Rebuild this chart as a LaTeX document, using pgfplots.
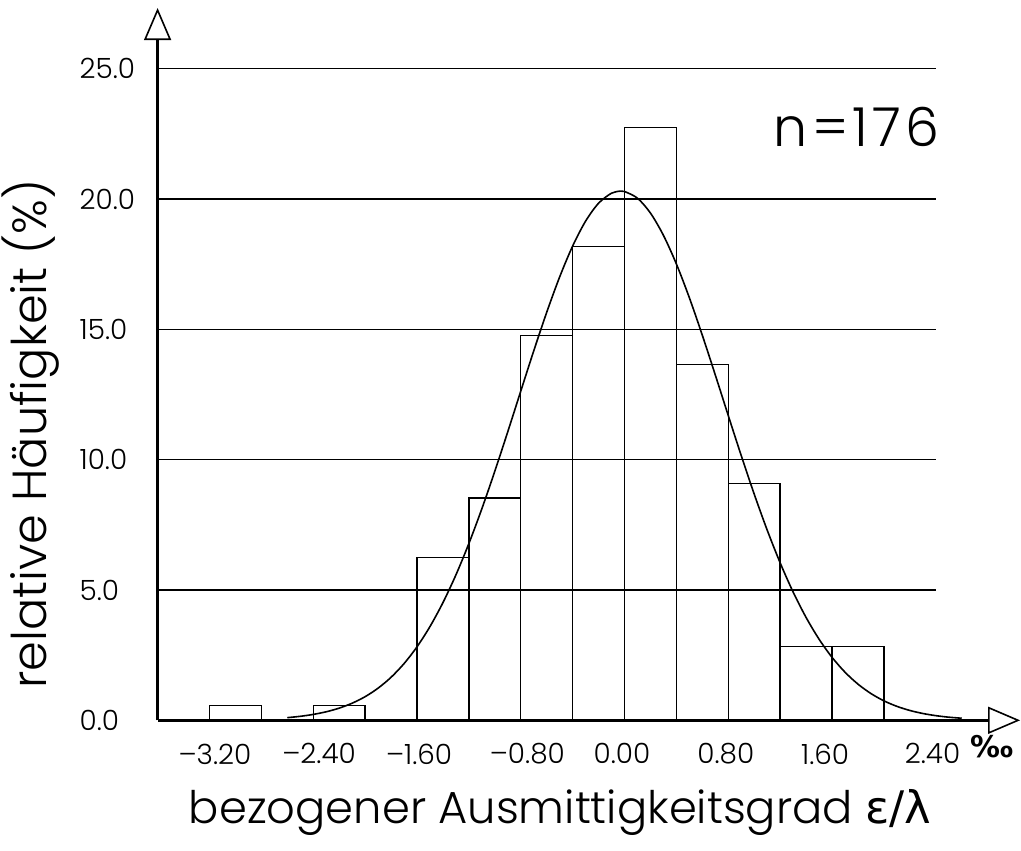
\documentclass[border=0pt]{standalone}
\usepackage{pgfplots}
\pgfplotsset{compat=1.18}
\usetikzlibrary{arrows.meta}
\usepackage{fontspec}
\setmainfont{Poppins}[UprightFont={* Light}]
\newfontfamily\greek{DejaVu Sans}
\newfontfamily\pmfont{DejaVu Sans}
\begin{document}
\begin{tikzpicture}
\begin{axis}[
  x=129.7bp, y=26.07bp,
  xmin=-3.8, xmax=2.85, ymin=0, ymax=27.32,
  axis lines=left,
  axis line style={line width=2.6bp, -{Triangle[open, length=32bp, width=27bp, line width=1.6bp]}},
  clip=false,
  xtick={-3.2,-2.4,-1.6,-0.8,0,0.8,1.6,2.4},
  xticklabels={\textendash3.20,\textendash2.40,\textendash1.60,\textendash0.80,0.00,0.80,1.60,2.40},
  ytick={0,5,10,15,20,25},
  yticklabels={0.0,5.0,10.0,15.0,20.0,25.0},
  tick style={draw=none},
  tick label style={font=\fontsize{28}{28}\selectfont, inner sep=0pt},
  xticklabel style={anchor=north west, xshift=-57bp, yshift=-21bp},
  yticklabel style={anchor=west, xshift=-76bp},
  xlabel={bezogener Ausmittigkeitsgrad {\greek ε/λ}},
  ylabel={relative Häufigkeit (\%)},
  xlabel style={font=\fontsize{45}{45}\selectfont, at={(axis cs:-0.697,-3.55)}, anchor=center},
  ylabel style={font=\fontsize{48}{48}\selectfont, at={(axis cs:-4.783,10.98)}, anchor=center},
]
\pgfplotsinvokeforeach{5,10,15,20,25}{
  \draw[line width=1.5bp] (axis cs:-3.8,#1) -- (axis cs:2.2,#1);
}
\addplot[ybar interval, draw=black, line width=1.4bp, fill=none] coordinates {
(-3.4,0.568) (-3.0,0) (-2.6,0.568) (-2.2,0) (-1.8,6.25) (-1.4,8.52) (-1.0,14.77)
(-0.6,18.18) (-0.2,22.73) (0.2,13.64) (0.6,9.09) (1.0,2.84) (1.4,2.84) (1.8,0)
};
\addplot[smooth, line width=1.6bp, no markers] coordinates {
(-2.8,0.102) (-2.7,0.153) (-2.6,0.226) (-2.5,0.327) (-2.4,0.467) (-2.3,0.656)
(-2.2,0.906) (-2.1,1.233) (-2.0,1.650) (-1.9,2.174) (-1.8,2.818) (-1.7,3.595)
(-1.6,4.513) (-1.5,5.576) (-1.4,6.780) (-1.3,8.113) (-1.2,9.553) (-1.1,11.070)
(-1.0,12.624) (-0.9,14.169) (-0.8,15.648) (-0.7,17.007) (-0.6,18.191) (-0.5,19.148)
(-0.4,19.835) (-0.3,20.220) (-0.23,20.30) (-0.2,20.285) (-0.1,20.027) (0.0,19.458)
(0.1,18.604) (0.2,17.505) (0.3,16.209) (0.4,14.770) (0.5,13.246) (0.6,11.690)
(0.7,10.153) (0.8,8.677) (0.9,7.298) (1.0,6.041) (1.1,4.921) (1.2,3.945)
(1.3,3.112) (1.4,2.416) (1.5,1.846) (1.6,1.388) (1.7,1.027) (1.8,0.747)
(1.9,0.536) (2.0,0.378) (2.1,0.262) (2.2,0.179) (2.3,0.120) (2.4,0.080)
};
\node[font=\fontsize{54}{54}\selectfont\addfontfeatures{LetterSpace=8}] at (axis cs:1.59,22.75) {n=176};
\node[font=\fontsize{30}{30}\pmfont\bfseries] at (axis cs:2.63,-1.02) {‰};
\coordinate (bl) at (axis cs:-5.015,-5.006);
\coordinate (tr) at (axis cs:2.857,27.63);
\end{axis}
\pgfresetboundingbox
\path[use as bounding box] (bl) rectangle (tr);
\end{tikzpicture}
\end{document}
